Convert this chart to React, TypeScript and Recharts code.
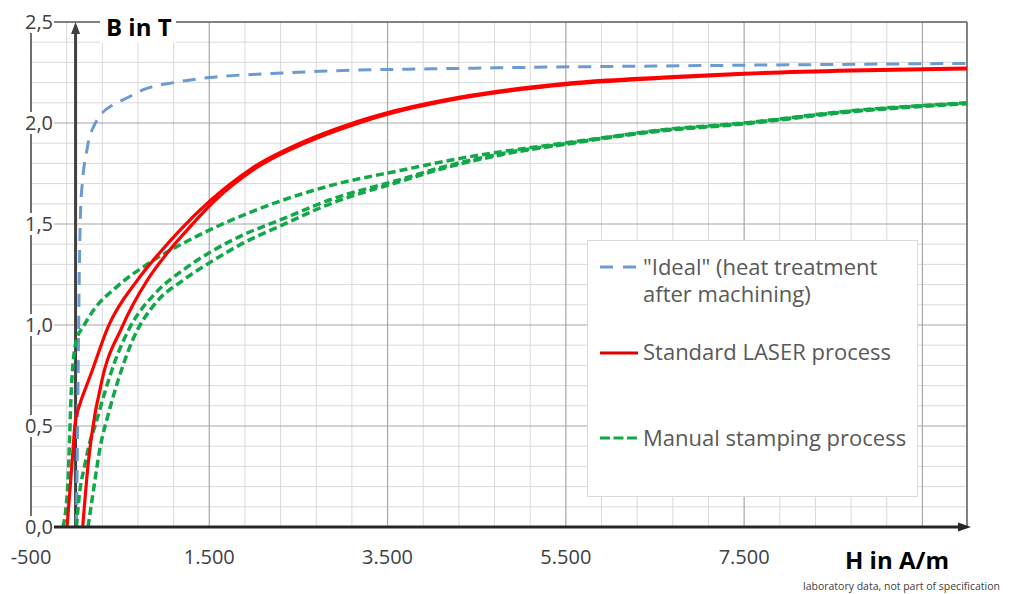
import { Legend, Line, LineChart, ReferenceLine, XAxis, YAxis } from "recharts";

type Pt = [number, number];

// H in A/m, B in T
const ideal: Pt[] = [
  [10, 0], [20, 0.4], [30, 0.8], [40, 1.2], [55, 1.55], [75, 1.7], [100, 1.8],
  [125, 1.86], [150, 1.92], [200, 1.98], [300, 2.05], [420, 2.09], [580, 2.125],
  [760, 2.165], [1100, 2.2], [1500, 2.225], [2200, 2.245], [3000, 2.26],
  [4000, 2.268], [5000, 2.275], [6500, 2.282], [8000, 2.288], [10000, 2.295],
];

const laserUpper: Pt[] = [
  [-96, 0], [-60, 0.2], [-26, 0.4], [-6, 0.51], [50, 0.61], [106, 0.68],
  [162, 0.745], [364, 0.99], [690, 1.22], [948, 1.36], [1172, 1.47], [1509, 1.615],
  [1958, 1.77], [2598, 1.915], [3080, 1.995], [3495, 2.05], [4315, 2.128],
  [5474, 2.195], [5961, 2.212], [6559, 2.226], [7494, 2.246], [8692, 2.262],
  [10000, 2.272],
];

const laserLower: Pt[] = [
  [80, 0], [143, 0.32], [218, 0.56], [274, 0.68], [293, 0.72], [521, 0.99],
  [802, 1.22], [1026, 1.355], [1251, 1.47], [1560, 1.615], [2000, 1.77],
  [2650, 1.915], [3120, 1.992], [3530, 2.047], [4340, 2.124], [5500, 2.19],
  [6580, 2.222], [7500, 2.242], [8700, 2.258], [10000, 2.268],
];

const stampUpper: Pt[] = [
  [-141, 0], [-85, 0.23], [-43, 0.72], [13, 0.93], [84, 0.99], [196, 1.07],
  [465, 1.19], [836, 1.31], [1363, 1.44], [2000, 1.565], [2856, 1.69],
  [3641, 1.765], [4315, 1.825], [5470, 1.9], [5965, 1.93],
  [6560, 1.965], [7490, 2.0], [8690, 2.06], [10000, 2.1],
];

const stampInitial: Pt[] = [
  [10, 0], [40, 0.15], [100, 0.3], [160, 0.42], [218, 0.5], [330, 0.67],
  [450, 0.83], [600, 0.98], [900, 1.16], [1200, 1.27], [1509, 1.36],
  [1900, 1.45], [2295, 1.52], [2856, 1.62], [3641, 1.72], [4100, 1.78],
  [4800, 1.85], [5500, 1.898], [6560, 1.963], [7490, 1.998], [8690, 2.058],
  [10000, 2.098],
];

const stampLower: Pt[] = [
  [140, 0], [200, 0.18], [274, 0.39], [368, 0.56], [480, 0.73], [645, 0.93],
  [900, 1.11], [1200, 1.22], [1509, 1.31], [1900, 1.41], [2295, 1.49],
  [2856, 1.6], [3641, 1.71], [4100, 1.772], [4800, 1.845], [5500, 1.895],
  [6560, 1.96], [7490, 1.995], [8690, 2.055], [10000, 2.095],
];

const xTicks = [-500, 1500, 3500, 5500, 7500];
const yTicks = [0, 0.5, 1, 1.5, 2, 2.5];

const minorX = [
  -100, 300, 700, 1100, 1900, 2300, 2700, 3100, 3900, 4300, 4700, 5100, 5900,
  6300, 6700, 7100, 7900, 8300, 8700, 9100,
];
const majorX = [1500, 3500, 5500, 7500, 9500];
const minorY = [
  0.1, 0.2, 0.3, 0.4, 0.6, 0.7, 0.8, 0.9, 1.1, 1.2, 1.3, 1.4, 1.6, 1.7, 1.8,
  1.9, 2.1, 2.2, 2.3, 2.4,
];
const majorY = [0.5, 1, 1.5, 2];

const BLUE = "#6b9bd1";
const RED = "#ff0000";
const GREEN = "#12a84a";
const FONT = "'Open Sans', sans-serif";

const series = [
  { key: "ideal", pts: ideal, color: BLUE, dash: "13 9", width: 3 },
  { key: "stampUpper", pts: stampUpper, color: GREEN, dash: "8 4", width: 3.5 },
  { key: "stampInitial", pts: stampInitial, color: GREEN, dash: "8 4", width: 3.5 },
  { key: "stampLower", pts: stampLower, color: GREEN, dash: "8 4", width: 3.5 },
  { key: "laserUpper", pts: laserUpper, color: RED, dash: undefined, width: 3.2 },
  { key: "laserLower", pts: laserLower, color: RED, dash: undefined, width: 3.2 },
];

const toRows = (pts: Pt[]) => pts.map(([h, b]) => ({ h, b }));

const fmtX = (v: number) => v.toLocaleString("de-DE");
const fmtY = (v: number) => v.toFixed(1).replace(".", ",");

function XTick(props: any) {
  const { x, y, payload } = props;
  return (
    <text x={x} y={y + 37} textAnchor="middle" fontSize={20} fill="#404040" fontFamily={FONT}>
      {fmtX(payload.value)}
    </text>
  );
}

function YTick(props: any) {
  const { x, y, payload } = props;
  return (
    <g>
      <rect x={x - 7} y={y - 11} width={30} height={22} fill="#fff" />
      <text x={x + 22} y={y + 7} textAnchor="end" fontSize={20} fill="#404040" fontFamily={FONT}>
        {fmtY(payload.value)}
      </text>
    </g>
  );
}

function HArrow(props: any) {
  const { x1, x2, y1 } = props;
  const start = Math.min(x1, x2) + 22;
  const end = Math.max(x1, x2);
  return (
    <g>
      <line x1={start} y1={y1} x2={end - 6} y2={y1} stroke="#262626" strokeWidth={3} />
      <polygon points={`${end + 4},${y1} ${end - 9},${y1 - 4.5} ${end - 9},${y1 + 4.5}`} fill="#262626" />
    </g>
  );
}

function VArrow(props: any) {
  const { x1, y1, y2 } = props;
  const top = Math.min(y1, y2);
  const bottom = Math.max(y1, y2);
  return (
    <g>
      <line x1={x1} y1={bottom} x2={x1} y2={top + 8} stroke="#404040" strokeWidth={3} />
      <polygon points={`${x1},${top} ${x1 - 4.5},${top + 12} ${x1 + 4.5},${top + 12}`} fill="#404040" />
    </g>
  );
}

function TopBorder(props: any) {
  const { x1, x2, y1 } = props;
  return <line x1={Math.min(x1, x2) + 22} y1={y1} x2={Math.max(x1, x2)} y2={y1} stroke="#595959" strokeWidth={1.5} />;
}

function LegendBox() {
  const txt = { fontSize: 22, fill: "#595959", fontFamily: FONT };
  return (
    <div style={{ width: 331, height: 257, background: "#fff", border: "1px solid #d9d9d9", boxSizing: "border-box" }}>
      <svg width={331} height={257} style={{ display: "block", marginTop: -1, marginLeft: -1 }}>
        <line x1={13} y1={27} x2={51} y2={27} stroke={BLUE} strokeWidth={3} strokeDasharray="13 10" />
        <text x={56} y={35} {...txt}>"Ideal" (heat treatment</text>
        <text x={56} y={62} {...txt}>after machining)</text>
        <line x1={13} y1={113} x2={51} y2={113} stroke="#e00000" strokeWidth={3} />
        <text x={56} y={120} {...txt}>Standard LASER process</text>
        <line x1={13} y1={198} x2={51} y2={198} stroke={GREEN} strokeWidth={3} strokeDasharray="10 3.5" />
        <text x={56} y={206} {...txt}>Manual stamping process</text>
      </svg>
    </div>
  );
}

export default function App() {
  return (
    <div style={{ position: "absolute", left: 0, top: 0, width: 1016, height: 594, background: "#fff", fontFamily: FONT }}>
      <LineChart width={1016} height={594} margin={{ top: 22, right: 49, left: 0, bottom: 0 }}>
        <XAxis
          dataKey="h"
          type="number"
          domain={[-500, 10000]}
          allowDataOverflow
          ticks={xTicks}
          height={67}
          axisLine={false}
          tickLine={false}
          tickSize={0}
          tickMargin={0}
          tick={<XTick />}
          interval={0}
        />
        <YAxis
          type="number"
          domain={[0, 2.5]}
          allowDataOverflow
          ticks={yTicks}
          width={31}
          axisLine={{ stroke: "#404040", strokeWidth: 1.5 }}
          tickLine={false}
          tickSize={0}
          tickMargin={0}
          tick={<YTick />}
          interval={0}
        />
        {minorX.map((v) => (
          <ReferenceLine key={"mx" + v} x={v} stroke="#d9d9d9" strokeWidth={1} />
        ))}
        {minorY.map((v) => (
          <ReferenceLine key={"my" + v} y={v} stroke="#d9d9d9" strokeWidth={1} />
        ))}
        {majorX.map((v) => (
          <ReferenceLine key={"Mx" + v} x={v} stroke="#a6a6a6" strokeWidth={1.2} />
        ))}
        {majorY.map((v) => (
          <ReferenceLine key={"My" + v} y={v} stroke="#a6a6a6" strokeWidth={1.2} />
        ))}
        <ReferenceLine y={2.5} shape={<TopBorder />} />
        <ReferenceLine x={10000} stroke="#595959" strokeWidth={1.5} />
        <ReferenceLine x={0} shape={<VArrow />} />
        {series.map((s) => (
          <Line
            key={s.key}
            data={toRows(s.pts)}
            dataKey="b"
            type="monotone"
            stroke={s.color}
            strokeWidth={s.width}
            strokeDasharray={s.dash}
            dot={false}
            activeDot={false}
            legendType="none"
            isAnimationActive={false}
          />
        ))}
        <ReferenceLine y={0} shape={<HArrow />} />
        <Legend
          content={<LegendBox />}
          layout="horizontal"
          verticalAlign="middle"
          wrapperStyle={{ position: "absolute", left: 587, top: 240, width: 331, height: 257 }}
        />
      </LineChart>
      <div
        style={{
          position: "absolute", left: 100, top: 10, width: 76, height: 33, background: "#fff",
          fontWeight: 700, fontSize: 24, color: "#000", lineHeight: "33px", paddingLeft: 6, boxSizing: "border-box",
        }}
      >
        B in T
      </div>
      <div style={{ position: "absolute", left: 845, top: 540, fontWeight: 700, fontSize: 24, color: "#000", lineHeight: "40px" }}>
        H in A/m
      </div>
      <div style={{ position: "absolute", left: 803, top: 579, fontSize: 10.5, color: "#404040", lineHeight: "15px", whiteSpace: "nowrap" }}>
        laboratory data, not part of specification
      </div>
    </div>
  );
}
